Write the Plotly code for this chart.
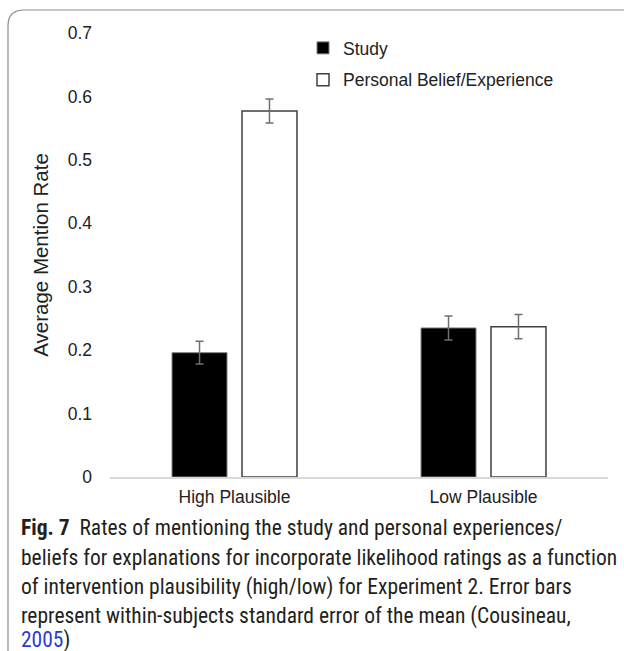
import plotly.graph_objects as go

categories = ["High Plausible", "Low Plausible"]
study = [0.196, 0.235]
study_err = [0.018, 0.019]
personal = [0.577, 0.237]
personal_err = [0.019, 0.019]
y_ticks = [0, 0.1, 0.2, 0.3, 0.4, 0.5, 0.6, 0.7]
y_tick_labels = ["0", "0.1", "0.2", "0.3", "0.4", "0.5", "0.6", "0.7"]

caption_lines = [
    "<b>Fig. 7</b>  Rates of mentioning the study and personal experiences/",
    "beliefs for explanations for incorporate likelihood ratings as a function",
    "of intervention plausibility (high/low) for Experiment 2. Error bars",
    "represent within-subjects standard error of the mean (Cousineau,",
    "<span style='color:#2b3bd6'>2005</span>)",
]

W, H = 624, 651
L, R, T, B = 110, 16, 33, 174
pw, ph = W - L - R, H - T - B

def px(x):
    return (x - L) / pw

def py(y):
    return (H - B - y) / ph

fig = go.Figure()
fig.add_trace(go.Bar(
    name="Study", x=categories, y=study, legendgroup="s",
    marker=dict(color="black", line=dict(color="#7f7f7f", width=1)),
    error_y=dict(type="data", array=study_err, color="#6f6f6f", thickness=1.5, width=4),
))
fig.add_trace(go.Bar(
    name="Personal Belief/Experience", x=categories, y=personal, legendgroup="p",
    marker=dict(color="white", line=dict(color="#404040", width=1.5)),
    error_y=dict(type="data", array=personal_err, color="#6f6f6f", thickness=1.5, width=4),
))

fs = 17.5
fig.update_layout(
    width=W, height=H,
    margin=dict(l=L, r=R, t=T, b=B, autoexpand=False),
    paper_bgcolor="white", plot_bgcolor="white",
    barmode="group", bargap=0.438, bargroupgap=0.214,
    font=dict(family="Liberation Sans, Arial", size=fs, color="#222"),
    showlegend=True,
    legend=dict(x=px(303), y=py(30), xanchor="left", yanchor="top",
                bgcolor="rgba(0,0,0,0)", font=dict(size=fs, color="#222"),
                traceorder="grouped", tracegroupgap=6, itemwidth=30),
    xaxis=dict(showline=True, linecolor="#d9d9d9", linewidth=1.5, ticks="",
               ticklabelstandoff=3,
               tickfont=dict(size=fs, color="#222"), showgrid=False),
    yaxis=dict(range=[0, 0.7], tickvals=y_ticks, ticktext=y_tick_labels,
               showgrid=False, zeroline=False, showline=False, ticks="",
               ticklabelstandoff=17, tickfont=dict(size=fs, color="#222"),
               title=dict(text="Average Mention Rate", font=dict(size=20.5, color="#222"),
                          standoff=13)),
)

# rounded border around figure
x0, x1, x2 = px(8), px(24), px(640)
y0, y1, y2 = py(670), py(26), py(10)
fig.add_shape(type="path", xref="paper", yref="paper",
              path=f"M {x0},{y0} L {x0},{y1} Q {x0},{y2} {x1},{y2} L {x2},{y2}",
              line=dict(color="#8a8a8a", width=1.2))

# caption
cap_y = [527, 557, 587, 616, 640]
for line, yy in zip(caption_lines, cap_y):
    fig.add_annotation(text=line, xref="paper", yref="paper", x=px(19), y=py(yy),
                       xanchor="left", yanchor="middle", showarrow=False,
                       font=dict(family="Liberation Sans Narrow, Roboto Condensed, Roboto", size=21.5, color="#231f20"))

fig.write_html("out.html", config={"displayModeBar": False},
               post_script="document.body.style.margin='0';document.body.style.overflow='hidden';")
